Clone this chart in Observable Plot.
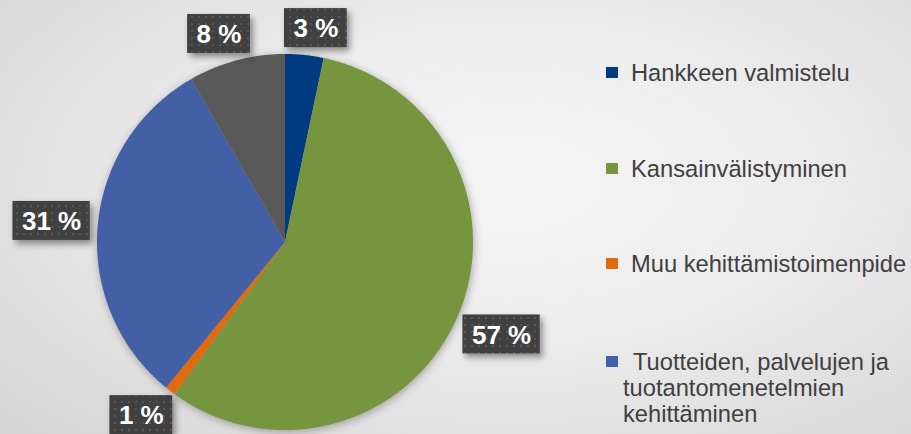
<!DOCTYPE html>
<html>
<head>
<meta charset="utf-8">
<script src="https://cdn.jsdelivr.net/npm/d3@7"></script>
<script src="https://cdn.jsdelivr.net/npm/@observablehq/plot@0.6"></script>
<style>
  html, body { margin: 0; padding: 0; }
  #wrap {
    position: relative; width: 911px; height: 434px; overflow: hidden;
    background: radial-gradient(ellipse 78% 85% at 56% 42%, #f5f5f5 0%, #ededed 40%, #d4d4d4 100%);
    font-family: "Liberation Sans", Arial, sans-serif;
  }
  #chart { position: absolute; left: 0; top: 0; }
  #chart svg { --plot-background: transparent; background: transparent; overflow: visible; }
  .legend-item { position: absolute; left: 623px; font-size: 23.7px; line-height: 26px; color: #404040; white-space: nowrap; text-indent: 8px; }
  .legend-item.wrap { white-space: normal; width: 285px; text-indent: 10px; }
  .legend-item .sw { position: absolute; display: block; left: -17px; top: 7px; width: 12px; height: 11px; }
</style>
</head>
<body>
<svg width="0" height="0" style="position:absolute">
  <defs>
    <pattern id="dots" width="7" height="7" patternUnits="userSpaceOnUse">
      <rect width="7" height="7" fill="#404040"></rect>
      <rect x="2" y="2" width="2" height="2" fill="#565656"></rect>
    </pattern>
  </defs>
</svg>
<div id="wrap"><div id="chart"></div><div id="legend"></div></div>
<script>
// ---- data ----
const categories = [
  "Hankkeen valmistelu",
  "Kansainvälistyminen",
  "Muu kehittämistoimenpide",
  "Tuotteiden, palvelujen ja tuotantomenetelmien kehittäminen",
  "Muut"
];
const values = [3.3, 56.7, 0.9, 30.8, 8.3];
const colors = ["#003b82", "#77953f", "#e06a0c", "#435fa5", "#595959"];
const legendCategories = categories.slice(0, 4);

// ---- layout ----
const W = 911, H = 434;
const cx = 285, cy = 242, R = 188;

const total = d3.sum(values);
const table = categories.map((name, i) => ({name, value: values[i]}));
const arcs = d3.pie().sort(null).value(d => d.value)(table);

// slice outlines (unit-circle coordinates, y up); area from arc edge to centre
const slicePts = [];
for (const a of arcs) {
  const n = Math.max(2, Math.ceil((a.endAngle - a.startAngle) / (Math.PI / 360)));
  for (let k = 0; k <= n; k++) {
    const t = a.startAngle + (a.endAngle - a.startAngle) * k / n;
    slicePts.push({name: a.data.name, x: Math.sin(t), y: Math.cos(t), ox: 0, oy: 0});
  }
}

// label boxes placed outside the pie
const canvas = document.createElement("canvas");
const ctx = canvas.getContext("2d");
ctx.font = "bold 26px 'Liberation Sans', Arial, sans-serif";
const labelData = arcs.map(a => {
  const label = `${Math.round(a.data.value / total * 100)} %`;
  const m = (a.startAngle + a.endAngle) / 2;
  const ux = Math.sin(m), uy = -Math.cos(m); // screen direction
  const tw = ctx.measureText(label).width;
  const hw = tw / 2 + 9, hh = 19.5, g = 8;
  const px = R * ux + ux * g + Math.sign(ux) * hw * Math.sqrt(Math.abs(ux));
  const py = R * uy + uy * g + Math.sign(uy) * hh * Math.sqrt(Math.abs(uy));
  const x = px / R, y = -py / R;
  return {label, x, y, x1: x - hw / R, x2: x + hw / R, y1: y - hh / R, y2: y + hh / R};
});

const plot = Plot.plot({
  width: W, height: H,
  marginLeft: cx - R, marginRight: W - (cx + R),
  marginTop: cy - R, marginBottom: H - (cy + R),
  x: {domain: [-1, 1], axis: null},
  y: {domain: [-1, 1], axis: null},
  color: {domain: categories, range: colors},
  marks: [
    Plot.area(slicePts, {x1: "x", y1: "y", x2: "ox", y2: "oy", z: "name", fill: "name"}),
    Plot.rect(labelData, {x1: "x1", x2: "x2", y1: "y1", y2: "y2", fill: "url(#dots)"}),
    Plot.text(labelData, {x: "x", y: "y", text: "label", fill: "white", fontSize: 26, fontWeight: "bold", fontFamily: "'Liberation Sans', Arial, sans-serif", dy: 1})
  ]
});
document.getElementById("chart").appendChild(plot);
const sl = plot.querySelector('g[aria-label="area"]');
if (sl) sl.style.filter = "drop-shadow(1px 2px 4px rgba(0,0,0,0.3))";
const bx = plot.querySelector('g[aria-label="rect"]');
if (bx) bx.style.filter = "drop-shadow(3px 4px 3px rgba(0,0,0,0.4))";

// ---- legend ----
const legendTops = [60, 156, 251, 349];
const legend = document.getElementById("legend");
legendCategories.forEach((name, i) => {
  const item = document.createElement("div");
  item.className = "legend-item" + (name.length > 30 ? " wrap" : "");
  item.style.top = legendTops[i] + "px";
  const sw = document.createElement("span");
  sw.className = "sw";
  sw.style.background = colors[categories.indexOf(name)];
  item.appendChild(sw);
  item.appendChild(document.createTextNode(name));
  legend.appendChild(item);
});
</script>
</body>
</html>
